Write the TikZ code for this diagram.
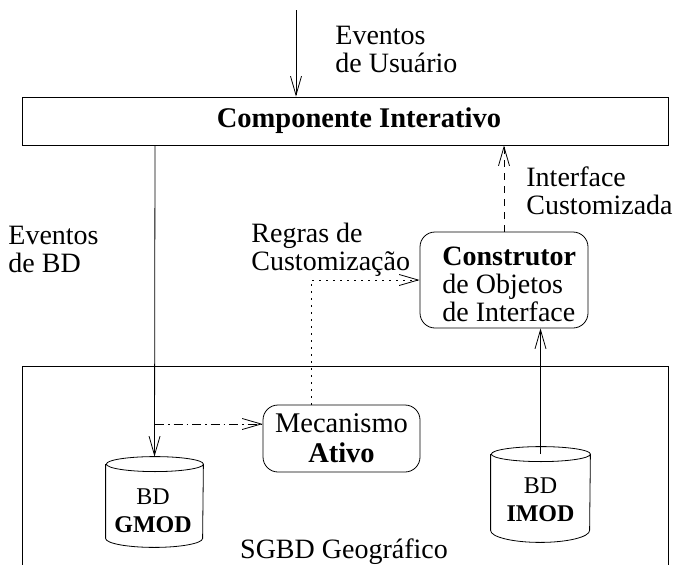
\documentclass[tikz,border=0pt]{standalone}
\usepackage{fontspec}
\setmainfont{Liberation Serif}
\usetikzlibrary{arrows.meta}
\begin{document}
\begin{tikzpicture}[x=1pt,y=1pt,line width=0.8pt,
  txt/.style={font=\fontsize{28}{28}\selectfont, inner sep=0, align=left},
  cyltxt/.style={font=\fontsize{24}{28}\selectfont, inner sep=0, align=center},
  arr/.style={-{Straight Barb[length=19pt,width=11pt]}},
  rbox/.style={draw, rounded corners=15pt, inner sep=0},
  plainbox/.style={draw, inner sep=0},
  dottedline/.style={dash pattern=on 1.2pt off 5.8pt},
  dashedline/.style={dash pattern=on 7pt off 6pt},
  dashdotline/.style={dash pattern=on 9pt off 4pt on 1.5pt off 4pt}
]
\useasboundingbox (0,0) rectangle (678,-565);

% main boxes
\node[plainbox, minimum width=646, minimum height=48] (ci) at (345,-121) {};
\node[txt, font=\fontsize{28.5}{28}\selectfont] (cilabel) at (359,-121) {\textbf{Componente Interativo}};

\node[rbox, minimum width=168, minimum height=96] (cons) at (504,-280) {};
\node[txt, anchor=west] (conslabel) at (442,-284) {\textbf{Construtor}\\de Objetos\\de Interface};

\node[rbox, minimum width=157, minimum height=67, font=\fontsize{28.5}{30}\selectfont, align=center] (mec) at (341.5,-438.5) {Mecanismo\\\textbf{Ativo}};

% SGBD container (extends below picture)
\coordinate (sgbdsw) at (22,-575);
\coordinate (sgbdnw) at (22,-366);
\coordinate (sgbdne) at (668,-366);
\coordinate (sgbdse) at (668,-575);
\draw (sgbdsw) -- (sgbdnw) -- (sgbdne) -- (sgbdse);
\node[txt] (sgbdlabel) at (344,-552) {SGBD Geográfico};

% cylinders
\node[inner sep=0, minimum width=97, minimum height=90] (gmod) at (154.5,-502) {};
\draw ([yshift=-7.5pt]gmod.north west) -- ([yshift=9pt]gmod.south west)
  arc[start angle=180,end angle=360,x radius=48.5pt,y radius=9pt]
  -- ([yshift=-7.5pt]gmod.north east)
  arc[start angle=0,end angle=360,x radius=48.5pt,y radius=7.5pt];
\node[cyltxt] (gmodlabel) at (153,-511) {BD\\\textbf{GMOD}};

\node[inner sep=0, minimum width=99, minimum height=95] (imod) at (540.5,-494.5) {};
\draw ([yshift=-7.5pt]imod.north west) -- ([yshift=12pt]imod.south west)
  arc[start angle=180,end angle=360,x radius=49.5pt,y radius=12pt]
  -- ([yshift=-7.5pt]imod.north east)
  arc[start angle=0,end angle=360,x radius=49.5pt,y radius=7.5pt];
\node[cyltxt] (imodlabel) at (540.5,-500) {BD\\\textbf{IMOD}};

% connectors
\coordinate (ue) at (296,-10);
\draw[arr] (ue) -- (ue |- ci.north);
\node[txt, anchor=west] (uelabel) at (335,-49) {Eventos\\de Usuário};

\coordinate (cistart) at (155,-145);
\draw[arr] (cistart) -- (gmod.north);
\node[txt, anchor=west] (bdlabel) at (8,-249) {Eventos\\de BD};

\coordinate (ddstart) at (155,-424);
\draw[arr, dashdotline] (ddstart) -- (ddstart -| mec.west);

\draw[arr, dashedline] (cons.north) -- (ci.south -| cons.north);
\node[txt, anchor=west] (iclabel) at (526,-191) {Interface\\Customizada};

\coordinate (rbend) at (311,-280);
\draw[arr, dottedline] (rbend |- mec.north) -- (rbend) -- (cons.west);
\node[txt, anchor=west] (rglabel) at (251,-250) {Regras de\\Customização};

\draw[arr] ([yshift=-7.5pt]imod.north) -- (imod.north |- cons.south);
\end{tikzpicture}
\end{document}
